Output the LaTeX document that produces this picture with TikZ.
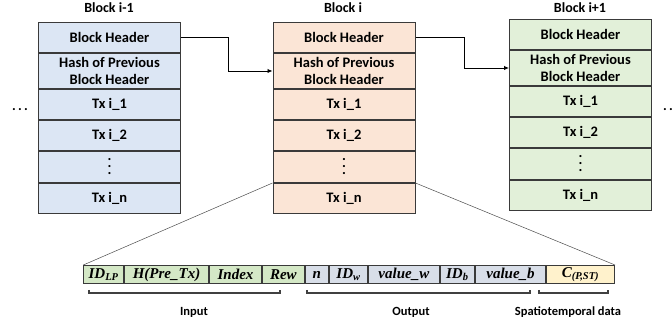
\documentclass[tikz,border=0pt]{standalone}
\usepackage{fontspec}
\setmainfont{Carlito}
\newfontfamily\fieldfont{Liberation Serif}
\usetikzlibrary{arrows.meta}

\definecolor{blkblue}{HTML}{DCE6F4}
\definecolor{blkpeach}{HTML}{FBE5D6}
\definecolor{blkgreen}{HTML}{E2F0D9}
\definecolor{fieldin}{HTML}{D4E8C6}
\definecolor{fieldout}{HTML}{D8DEE8}
\definecolor{fieldst}{HTML}{FFF2CC}
\definecolor{edge}{HTML}{3A3A3A}

% a vertical ellipsis with wider spacing than \vdots
\newcommand\stackdots{\vbox{\baselineskip=7pt\lineskiplimit=0pt\lineskip=0pt
  \hbox{.}\hbox{.}\hbox{.}}}

\tikzset{
  x=1pt, y=-1pt,
  cell/.style={draw=edge, line width=1pt, minimum width=142pt, anchor=north west,
    inner sep=0pt, align=center, font=\bfseries\fontsize{14.5}{17}\selectfont},
  title/.style={font=\bfseries\fontsize{14}{16}\selectfont, inner sep=0pt},
  field/.style={draw=edge, line width=1pt, minimum height=18pt, anchor=north west,
    inner sep=0pt, font=\fieldfont\bfseries\itshape\fontsize{15}{16}\selectfont},
  link/.style={draw=black, line width=0.9pt, -{Latex[length=5pt,width=4.5pt]}},
  zoomline/.style={draw=black!70, line width=0.5pt},
  bracket/.style={draw=black!75, line width=1.3pt},
  caption/.style={font=\bfseries\fontsize{12.5}{14}\selectfont, inner sep=0pt},
}

% one block of the chain: #1 name prefix, #2 left x, #3 top y, #4 fill colour
\newcommand\drawblock[4]{%
  \node[cell, fill=#4, minimum height=30pt] (#1h) at (#2,#3) {Block Header};
  \node[cell, fill=#4, minimum height=35pt] (#1p) at (#1h.south west) {Hash of Previous\\Block Header};
  \node[cell, fill=#4, minimum height=30pt] (#1t1) at (#1p.south west) {Tx i\_1};
  \node[cell, fill=#4, minimum height=30pt] (#1t2) at (#1t1.south west) {Tx i\_2};
  \node[cell, fill=#4, minimum height=31pt] (#1d) at (#1t2.south west) {\stackdots};
  \node[cell, fill=#4, minimum height=30pt] (#1tn) at (#1d.south west) {Tx i\_n};
}

\begin{document}
\begin{tikzpicture}
\useasboundingbox (0,0) rectangle (672,320);

% the three blocks
\drawblock{A}{38}{22}{blkblue}
\drawblock{B}{272.5}{22}{blkpeach}
\drawblock{C}{509}{19}{blkgreen}

\node[title] (tA) at (109,8) {Block i-1};
\node[title] (tB) at (343,8) {Block i};
\node[title] (tC) at (580,8) {Block i+1};

\node[title] (dl) at (20,110) {.\,.\,.};
\node[title] (dr) at (671,110) {.\,.\,.};

% hash links between consecutive blocks
\draw[link] (Ah.east) -- ++(47,0) |- (Bp.west);
\draw[link] (Bh.east) -- ++(49,0) |- (Cp.west);

% transaction layout
\node[field, fill=fieldin,  minimum width=39.7pt] (f1)  at (83.3,265) {ID\textsubscript{LP}};
\node[field, fill=fieldin,  minimum width=84pt]   (f2)  at (f1.north east) {H(Pre\_Tx)};
\node[field, fill=fieldin,  minimum width=52pt]   (f3)  at (f2.north east) {Index};
\node[field, fill=fieldin,  minimum width=41.7pt] (f4)  at (f3.north east) {Rew};
\node[field, fill=fieldout, minimum width=23.3pt] (f5)  at (f4.north east) {n};
\node[field, fill=fieldout, minimum width=38pt]   (f6)  at (f5.north east) {ID\textsubscript{w}};
\node[field, fill=fieldout, minimum width=70.7pt] (f7)  at (f6.north east) {value\_w};
\node[field, fill=fieldout, minimum width=34.3pt] (f8)  at (f7.north east) {ID\textsubscript{b}};
\node[field, fill=fieldout, minimum width=70pt]   (f9)  at (f8.north east) {value\_b};
\node[field, fill=fieldst,  minimum width=68pt]   (f10) at (f9.north east) {C\textsubscript{(P,ST)}};

% zoom-in lines from block i
\draw[zoomline] (Bd.south west) -- (f1.north west);
\draw[zoomline] (Bd.south east) -- (f10.north east);

% group brackets
\draw[bracket] (89,290) -- (89,293) -- (280,293) -- (280,290);
\draw[bracket] (307,290) -- (307,293) -- (530,293) -- (530,290);
\draw[bracket] (539,290) -- (539,293) -- (608,293) -- (608,290);

\node[caption] (lin)  at (194,312) {Input};
\node[caption] (lout) at (411,312) {Output};
\node[caption] (lst)  at (568,312) {Spatiotemporal data};
\end{tikzpicture}
\end{document}
